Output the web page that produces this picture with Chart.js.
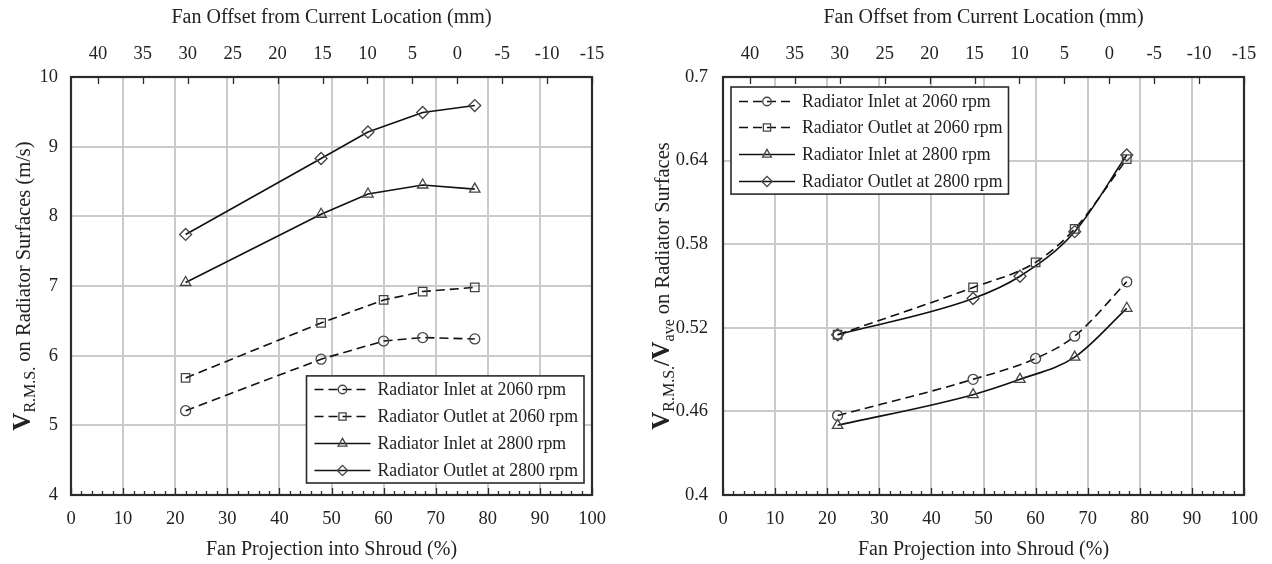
<!DOCTYPE html>
<html>
<head>
<meta charset="utf-8">
<script src="https://cdn.jsdelivr.net/npm/chart.js@4.4.0/dist/chart.umd.min.js"></script>
<style>
html, body { margin: 0; padding: 0; background: #fff; }
#wrap { position: relative; width: 1272px; height: 564px; }
canvas { position: absolute; top: 0; }
#c1 { left: 0; }
#c2 { left: 636px; }
</style>
</head>
<body>
<div id="wrap">
  <canvas id="c1" width="636" height="564"></canvas>
  <canvas id="c2" width="636" height="564"></canvas>
</div>
<script>
// fan projection into shroud (%) for each rpm
const projection2060 = [22, 48, 60, 67.5, 77.5];
const projection2800 = [22, 48, 57, 67.5, 77.5];
const offsetTicks = [40, 35, 30, 25, 20, 15, 10, 5, 0, -5, -10, -15];

const seriesNames = [
    'Radiator Inlet at 2060 rpm',
    'Radiator Outlet at 2060 rpm',
    'Radiator Inlet at 2800 rpm',
    'Radiator Outlet at 2800 rpm'
];

// left plot: V r.m.s. (m/s)
const rmsInlet2060 = [5.21, 5.95, 6.21, 6.26, 6.24];
const rmsOutlet2060 = [5.68, 6.47, 6.80, 6.92, 6.98];
const rmsInlet2800 = [7.05, 8.03, 8.32, 8.45, 8.39];
const rmsOutlet2800 = [7.74, 8.83, 9.21, 9.49, 9.59];

// right plot: V r.m.s. / V ave
const ratioInlet2060 = [0.457, 0.483, 0.498, 0.514, 0.553];
const ratioOutlet2060 = [0.515, 0.549, 0.567, 0.591, 0.641];
const ratioInlet2800 = [0.450, 0.472, 0.483, 0.499, 0.534];
const ratioOutlet2800 = [0.515, 0.541, 0.557, 0.589, 0.644];

const SERIF = "'Liberation Serif', 'Times New Roman', serif";
const INK = '#222';
const GRID = '#cbcbcb';
Chart.defaults.font.family = SERIF;
Chart.defaults.color = INK;

const pts = (xs, ys) => xs.map((x, i) => ({ x: x, y: ys[i] }));

const makeSet = (name, xs, ys, dashed, marker, radius, smooth) => ({
    label: name,
    data: pts(xs, ys),
    borderColor: '#111',
    borderWidth: 1.6,
    borderDash: dashed ? [9, 5] : [],
    pointStyle: marker,
    pointRadius: radius,
    pointHoverRadius: radius,
    pointBorderColor: '#444',
    pointBorderWidth: 1.3,
    pointBackgroundColor: 'rgba(0,0,0,0)',
    cubicInterpolationMode: smooth ? 'monotone' : 'default',
    tension: 0,
    fill: false
});

function drawMarker(ctx, style, x, y, r) {
    ctx.beginPath();
    if (style === 'circle') {
        ctx.arc(x, y, r, 0, Math.PI * 2);
    } else if (style === 'rect') {
        const s = r * Math.SQRT1_2;
        ctx.rect(x - s, y - s, 2 * s, 2 * s);
    } else if (style === 'triangle') {
        const w = r * Math.sqrt(3) / 2;
        ctx.moveTo(x, y - r);
        ctx.lineTo(x + w, y + r / 2);
        ctx.lineTo(x - w, y + r / 2);
        ctx.closePath();
    } else if (style === 'rectRot') {
        ctx.moveTo(x - r, y);
        ctx.lineTo(x, y - r);
        ctx.lineTo(x + r, y);
        ctx.lineTo(x, y + r);
        ctx.closePath();
    }
    ctx.stroke();
}

// inward tick marks and the box round the plot
const frameTicks = {
    id: 'frameTicks',
    beforeDatasetsDraw(chart) {
        const ctx = chart.ctx, a = chart.chartArea;
        const xs = chart.scales.x, top = chart.scales.x2;
        ctx.save();
        ctx.strokeStyle = '#2b2b2b';
        ctx.lineWidth = 1.3;
        ctx.beginPath();
        for (let v = xs.min; v <= xs.max; v += 2) {
            const px = Math.round(xs.getPixelForValue(v)) + 0.5;
            const len = v % 10 === 0 ? 7 : 4;
            ctx.moveTo(px, a.bottom);
            ctx.lineTo(px, a.bottom - len);
        }
        top.ticks.forEach(t => {
            const px = Math.round(top.getPixelForValue(t.value)) + 0.5;
            ctx.moveTo(px, a.top);
            ctx.lineTo(px, a.top + 7);
        });
        ctx.stroke();
        ctx.lineWidth = 2.2;
        ctx.strokeRect(a.left, a.top, a.right - a.left, a.bottom - a.top);
        ctx.restore();
    }
};

// rotated y title with bold V and subscripts
const yTitle = {
    id: 'yTitle',
    afterDraw(chart, args, opts) {
        const ctx = chart.ctx, a = chart.chartArea;
        const parts = opts.parts;
        const fontOf = p => (p.bold ? 'bold ' : '') + p.size + 'px ' + SERIF;
        let total = 0;
        parts.forEach(p => { ctx.font = fontOf(p); p.w = ctx.measureText(p.text).width; total += p.w; });
        ctx.save();
        ctx.translate(opts.x, (a.top + a.bottom) / 2 + opts.dy);
        ctx.rotate(-Math.PI / 2);
        ctx.fillStyle = INK;
        ctx.textBaseline = 'alphabetic';
        let x = -total / 2;
        parts.forEach(p => {
            ctx.font = fontOf(p);
            ctx.fillText(p.text, x, 7 + (p.sub ? 5 : 0));
            x += p.w;
        });
        ctx.restore();
    }
};

// boxed legend inside the plot
const boxLegend = {
    id: 'boxLegend',
    afterDatasetsDraw(chart, args, opts) {
        const ctx = chart.ctx, a = chart.chartArea;
        const sets = chart.data.datasets;
        const rowH = 26.7, pad = 13.5, sample = 56, gap = 7;
        ctx.save();
        ctx.font = '17.8px ' + SERIF;
        const tw = Math.max(...sets.map(s => ctx.measureText(s.label).width));
        const w = 8 + sample + gap + tw + 6;
        const h = pad * 2 + rowH * (sets.length - 1);
        let left, topY;
        if (opts.corner === 'br') {
            left = a.right - opts.dx - w;
            topY = a.bottom - opts.dy - h;
        } else {
            left = a.left + opts.dx;
            topY = a.top + opts.dy;
        }
        ctx.fillStyle = '#fff';
        ctx.fillRect(left, topY, w, h);
        ctx.strokeStyle = '#2b2b2b';
        ctx.lineWidth = 1.6;
        ctx.strokeRect(left, topY, w, h);
        sets.forEach((s, i) => {
            const y = Math.round(topY + pad + i * rowH) + 0.5;
            const x0 = left + 8;
            ctx.strokeStyle = s.borderColor;
            ctx.lineWidth = s.borderWidth;
            ctx.setLineDash(s.borderDash);
            ctx.beginPath();
            ctx.moveTo(x0, y);
            ctx.lineTo(x0 + sample, y);
            ctx.stroke();
            ctx.setLineDash([]);
            ctx.strokeStyle = s.pointBorderColor;
            ctx.lineWidth = s.pointBorderWidth;
            drawMarker(ctx, s.pointStyle, x0 + sample / 2, y, s.pointRadius * 0.85);
            ctx.fillStyle = INK;
            ctx.textBaseline = 'middle';
            ctx.fillText(s.label, x0 + sample + gap, y + 1);
        });
        ctx.restore();
    }
};

function makeChart(id, sets, yMin, yMax, yStep, yWidth, yPad, rightPad, titleOpts, legendOpts) {
    const tickFont = { family: SERIF, size: 18.5 };
    const titleFont = { family: SERIF, size: 20 };
    return new Chart(document.getElementById(id), {
        type: 'line',
        data: { datasets: sets },
        options: {
            responsive: false,
            animation: false,
            devicePixelRatio: 1,
            layout: { padding: { left: 0, right: rightPad, top: 0, bottom: 0 } },
            plugins: {
                legend: { display: false },
                tooltip: { enabled: false },
                yTitle: titleOpts,
                boxLegend: legendOpts
            },
            scales: {
                x: {
                    type: 'linear', position: 'bottom', min: 0, max: 100,
                    ticks: { stepSize: 10, font: tickFont, color: INK, padding: 13, maxRotation: 0 },
                    grid: { color: GRID, lineWidth: 2, drawTicks: false },
                    border: { display: false },
                    title: { display: true, text: 'Fan Projection into Shroud (%)', font: titleFont, color: INK, padding: { top: 0, bottom: 2 } },
                    afterFit: s => { s.height = 69; }
                },
                x2: {
                    type: 'linear', position: 'top', reverse: true, min: -15, max: 43,
                    afterBuildTicks: s => { s.ticks = offsetTicks.map(v => ({ value: v })); },
                    ticks: { font: tickFont, color: INK, padding: 12, maxRotation: 0, autoSkip: false },
                    grid: { display: false, drawTicks: false },
                    border: { display: false },
                    title: { display: true, text: 'Fan Offset from Current Location (mm)', font: titleFont, color: INK, padding: { top: 6, bottom: 0 } },
                    afterFit: s => { s.height = 77; }
                },
                y: {
                    type: 'linear', min: yMin, max: yMax,
                    ticks: { stepSize: yStep, font: tickFont, color: INK, padding: yPad, callback: v => String(+v.toFixed(2)) },
                    grid: { color: GRID, lineWidth: 2, drawTicks: false },
                    border: { display: false },
                    afterFit: s => { s.width = yWidth; }
                }
            }
        },
        plugins: [frameTicks, yTitle, boxLegend]
    });
}

makeChart('c1', [
    makeSet(seriesNames[0], projection2060, rmsInlet2060, true, 'circle', 5, false),
    makeSet(seriesNames[1], projection2060, rmsOutlet2060, true, 'rect', 6, false),
    makeSet(seriesNames[2], projection2800, rmsInlet2800, false, 'triangle', 6, false),
    makeSet(seriesNames[3], projection2800, rmsOutlet2800, false, 'rectRot', 6, false)
], 4, 10, 1, 71, 13, 44, {
    x: 23, dy: 0,
    parts: [
        { text: 'V', size: 25, bold: true },
        { text: 'R.M.S.', size: 16, sub: true },
        { text: ' on Radiator Surfaces (m/s)', size: 20.5 }
    ]
}, { corner: 'br', dx: 8, dy: 12 });

makeChart('c2', [
    makeSet(seriesNames[0], projection2060, ratioInlet2060, true, 'circle', 5, true),
    makeSet(seriesNames[1], projection2060, ratioOutlet2060, true, 'rect', 6, true),
    makeSet(seriesNames[2], projection2800, ratioInlet2800, false, 'triangle', 6, true),
    makeSet(seriesNames[3], projection2800, ratioOutlet2800, false, 'rectRot', 6, true)
], 0.4, 0.7, 0.06, 87, 15, 28, {
    x: 26, dy: 0,
    parts: [
        { text: 'V', size: 25, bold: true },
        { text: 'R.M.S.', size: 16, sub: true },
        { text: '/', size: 23, bold: true },
        { text: 'V', size: 25, bold: true },
        { text: 'ave', size: 16, sub: true },
        { text: ' on Radiator Surfaces', size: 20.5 }
    ]
}, { corner: 'tl', dx: 8, dy: 10 });
</script>
</body>
</html>
